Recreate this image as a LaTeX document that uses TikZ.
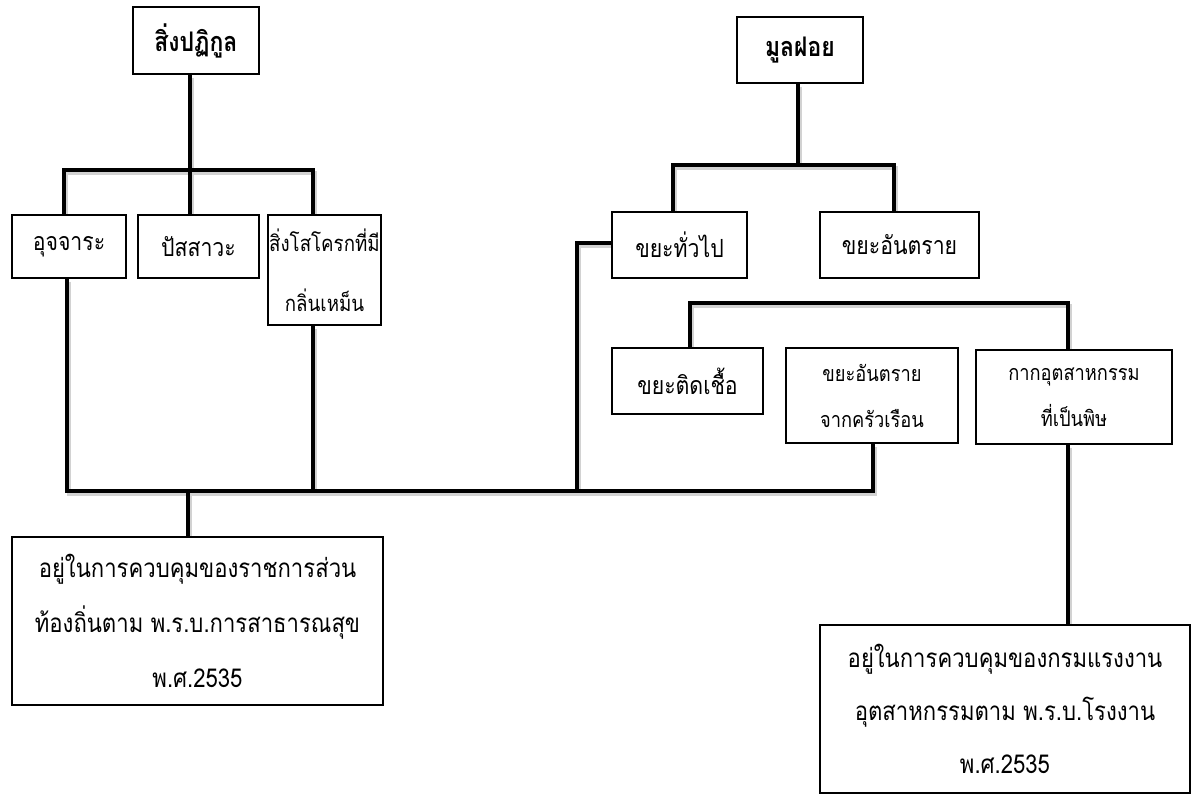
\documentclass[tikz,border=0pt]{standalone}
\usepackage{fontspec}
\newfontfamily\thai[Script=Thai,FakeStretch=0.85]{Loma}
\usetikzlibrary{calc,backgrounds}
\newcommand\myconnectors[1]{%
  \draw[#1] (A.south -| bA) -- (bA);
  \draw[#1] (A1.north -| bA1) -- (bA1) -- (bA3) -- (A3.north -| bA3);
  \draw[#1] (bA) -- (A2.north -| bA);
  \draw[#1] (A1.south -| m1) -- (m1) -- (mC2) -- (C2.south -| mC2);
  \draw[#1] (A3.south -| m3) -- (m3);
  \draw[#1] (mL) -- (L.north -| mL);
  \draw[#1] (B1.west |- kB1) -- (kB1) -- (mB1);
  \draw[#1] (B.south -| bB) -- (bB);
  \draw[#1] (B1.north -| bB1) -- (bB1) -- (bB2) -- (B2.north -| bB2);
  \draw[#1] (C1.north -| c1) -- (c1) -- (c3) -- (C3.north -| c3);
  \draw[#1] (C3.south -| c3) -- (R.north -| c3);
}
\begin{document}
\begin{tikzpicture}[x=1pt,y=-1pt,
  box/.style={draw=black, line width=1.3pt, fill=white, inner sep=0pt, align=center, text=black},
  big/.style={font={\thai\fontsize{25}{54}\selectfont}},
  small/.style={font={\thai\fontsize{21.5}{46}\selectfont}},
  head/.style={font={\thai\bfseries\fontsize{27}{30}\selectfont}},
  conn/.style={draw=black, line width=3.6pt, line join=miter},
  connshadow/.style={draw=gray!35, line width=4.5pt, line join=miter, transform canvas={shift={(2pt,-3pt)}}}]
\useasboundingbox (0,0) rectangle (1195,794);

% left tree nodes
\node[box,head,minimum width=126pt,minimum height=67pt] (A) at (196,40.5) {สิ่งปฏิกูล};
\node[box,big,minimum width=114pt,minimum height=63pt] (A1) at (69,246.5) {อุจจาระ};
\node[box,big,minimum width=121pt,minimum height=63pt] (A2) at (198.5,246.5) {ปัสสาวะ};
\node[box,minimum width=113pt,minimum height=110pt,font={\thai\fontsize{22}{60}\selectfont}] (A3) at (324.5,270) {สิ่งโสโครกที่มี\\กลิ่นเหม็น};
\node[box,minimum width=371pt,minimum height=168pt,font={\thai\fontsize{26}{55}\selectfont}] (L) at (197.5,621) {อยู่ในการควบคุมของราชการส่วน\\ท้องถิ่นตาม พ.ร.บ.การสาธารณสุข\\พ.ศ.2535};

% right tree nodes
\node[box,head,minimum width=126pt,minimum height=66pt] (B) at (800,50) {มูลฝอย};
\node[box,big,minimum width=135pt,minimum height=66pt] (B1) at (679.5,245) {ขยะทั่วไป};
\node[box,big,minimum width=159pt,minimum height=66pt] (B2) at (899.5,245) {ขยะอันตราย};
\node[box,big,minimum width=151pt,minimum height=66pt] (C1) at (687.5,381) {ขยะติดเชื้อ};
\node[box,small,minimum width=172pt,minimum height=95pt] (C2) at (872,395.5) {ขยะอันตราย\\จากครัวเรือน};
\node[box,small,minimum width=196pt,minimum height=94pt] (C3) at (1074,397) {กากอุตสาหกรรม\\ที่เป็นพิษ};
\node[box,minimum width=370pt,minimum height=168pt,font={\thai\fontsize{26}{53}\selectfont}] (R) at (1005,709) {อยู่ในการควบคุมของกรมแรงงาน\\อุตสาหกรรมตาม พ.ร.บ.โรงงาน\\พ.ศ.2535};

% junction coordinates
\coordinate (bA) at (190,170);
\coordinate (bA1) at (64,170);
\coordinate (bA3) at (313,170);
\coordinate (m1) at (67,491);
\coordinate (m3) at (313,491);
\coordinate (mL) at (188,491);
\coordinate (mB1) at (577,491);
\coordinate (mC2) at (873,491);
\coordinate (kB1) at (577,243);
\coordinate (bB) at (798,165);
\coordinate (bB1) at (673,165);
\coordinate (bB2) at (894,165);
\coordinate (c1) at (690,303);
\coordinate (c3) at (1068,303);

\begin{scope}[on background layer]
\fill[white] (0,0) rectangle (1195,794);
\myconnectors{connshadow}
\myconnectors{conn}
\end{scope}
\end{tikzpicture}
\end{document}
